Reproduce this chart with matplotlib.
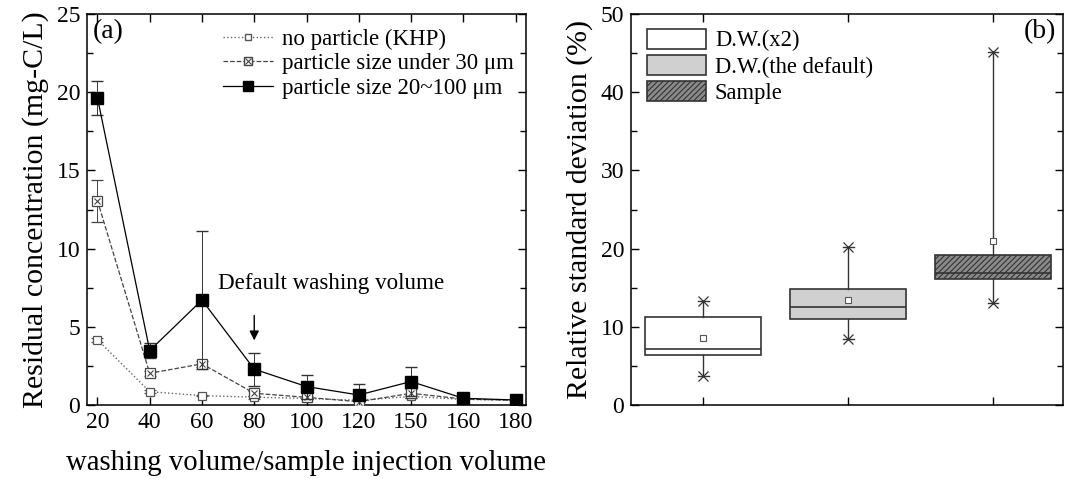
import numpy as np
import matplotlib
matplotlib.use('Agg')
from matplotlib import pyplot as plt
from matplotlib.lines import Line2D
from matplotlib.patches import Patch
from matplotlib.ticker import MultipleLocator

plt.rcParams['font.family'] = ['Liberation Serif', 'DejaVu Serif']
plt.rcParams['mathtext.fontset'] = 'stix'
plt.rcParams['hatch.linewidth'] = 0.8
plt.rcParams['axes.linewidth'] = 1.1
plt.rcParams['xtick.major.width'] = 1.0
plt.rcParams['ytick.major.width'] = 1.0
plt.rcParams['xtick.minor.width'] = 1.0
plt.rcParams['ytick.minor.width'] = 1.0

#==================
#DATA, PANEL (a)
#==================
vol_labels = ['20', '40', '60', '80', '100', '120', '150', '160', '180']

khp = [4.17, 0.85, 0.60, 0.50, 0.42, 0.30, 0.55, 0.36, 0.30]
khp_err = [0.12, 0.08, 0.05, 0.10, 0.05, 0.05, 0.10, 0.04, 0.02]

under30 = [13.06, 2.03, 2.63, 0.75, 0.49, 0.21, 0.75, 0.38, 0.30]
under30_err = [1.35, 0.15, 0.20, 0.15, 0.10, 0.05, 0.30, 0.05, 0.05]

big = [19.64, 3.48, 6.71, 2.29, 1.18, 0.64, 1.50, 0.43, 0.32]
big_err = [1.10, 0.46, 4.44, 1.05, 0.77, 0.68, 0.92, 0.10, 0.05]

#==================
#DATA, PANEL (b)
#==================
box_names = ['D.W.(x2)', 'D.W.(the default)', 'Sample']
box_q1 = [6.41, 10.98, 16.15]
box_med = [7.14, 12.52, 16.88]
box_q3 = [11.20, 14.87, 19.15]
box_mean = [8.59, 13.42, 20.98]
box_lo = [3.72, 8.42, 13.03]
box_hi = [13.25, 20.26, 45.17]

fig = plt.figure(figsize=(10.69, 4.79), dpi=100)
ax1 = fig.add_axes([87/1069, 74/479, 439/1069, 391/479])
ax2 = fig.add_axes([631/1069, 74/479, 432/1069, 391/479])

x = np.arange(len(vol_labels))

#KHP
ax1.errorbar(x, khp, yerr=khp_err, color='#666666', ls=':', lw=1.0,
             marker='s', ms=6, mfc='white', mec='#555555', mew=0.9,
             capsize=4, elinewidth=0.7, ecolor='#555555', zorder=3)
#under 30 um
ax1.errorbar(x, under30, yerr=under30_err, color='#444444', ls='--', lw=0.9,
             marker='s', ms=7, mfc='white', mec='#444444', mew=0.9,
             capsize=4, elinewidth=0.7, ecolor='#444444', zorder=4)
ax1.plot(x, under30, ls='none', marker='x', ms=5, mec='#444444', mew=0.8, zorder=5)
#20~100 um
ax1.errorbar(x, big, yerr=big_err, color='black', ls='-', lw=0.9,
             marker='s', ms=9, mfc='black', mec='black',
             capsize=4, elinewidth=0.7, ecolor='#333333', zorder=6)

ax1.set_xlim(-0.2, 8.2)
ax1.set_ylim(0, 25)
ax1.set_xticks(x)
ax1.set_xticklabels(vol_labels)
ax1.yaxis.set_major_locator(MultipleLocator(5))
ax1.yaxis.set_minor_locator(MultipleLocator(2.5))
ax1.tick_params(which='both', direction='in', top=True, right=True, labelsize=17)
ax1.tick_params(which='major', length=6, pad=5)
ax1.tick_params(which='minor', length=4)
ax1.set_xlabel('washing volume/sample injection volume', fontsize=20.7, labelpad=12)
ax1.set_ylabel('Residual concentration (mg-C/L)', fontsize=21.5, labelpad=5)

ax1.annotate('', xy=(3, 3.95), xytext=(3, 5.9),
             arrowprops=dict(arrowstyle='-|>', color='black', lw=1.0,
                             mutation_scale=14))
ax1.text(2.3, 7.8, 'Default washing volume', fontsize=16.6, va='center', ha='left')
ax1.text(0.012, 0.955, '(a)', transform=ax1.transAxes, fontsize=20,
         va='center', ha='left')

h_khp = Line2D([], [], color='#666666', ls=':', lw=1.0, marker='s', ms=5,
               mfc='white', mec='#555555')
h_u30 = (Line2D([], [], color='#444444', ls='--', lw=0.9, marker='s', ms=6,
                mfc='white', mec='#444444'),
         Line2D([], [], ls='none', marker='x', ms=4, mec='#444444', mew=0.8))
h_big = Line2D([], [], color='black', ls='-', lw=0.9, marker='s', ms=7,
               mfc='black')
ax1.legend([h_khp, h_u30, h_big],
           ['no particle (KHP)', 'particle size under 30 μm',
            'particle size 20~100 μm'],
           loc='upper right', bbox_to_anchor=(1.02, 1.015), frameon=False,
           fontsize=16.5, handlelength=2.2, handletextpad=0.4,
           labelspacing=0.15, numpoints=1)

#==========
#BOX PLOT
#==========
stats = []
for i in range(len(box_names)):
    stats.append(dict(label=box_names[i], q1=box_q1[i], med=box_med[i],
                      q3=box_q3[i], mean=box_mean[i],
                      whislo=box_lo[i], whishi=box_hi[i], fliers=[]))

fills = ['white', '#d0d0d0', '#8a8a8a']
hatches = [None, None, '//////']
pos = [1, 2, 3]
bp = ax2.bxp(stats, positions=pos, widths=0.8, patch_artist=True,
             showmeans=True, showfliers=False, capwidths=0.07,
             boxprops=dict(edgecolor='#333333', linewidth=1.2),
             medianprops=dict(color='#333333', linewidth=1.2),
             whiskerprops=dict(color='#333333', linewidth=1.0),
             capprops=dict(color='#333333', linewidth=1.0),
             meanprops=dict(marker='s', ms=4, mfc='white', mec='#555555',
                            mew=0.8))
for b, fc, ht in zip(bp['boxes'], fills, hatches):
    b.set_facecolor(fc)
    if ht:
        b.set_hatch(ht)

ax2.plot(pos, box_lo, ls='none', marker='x', ms=7, mec='#333333', mew=0.9)
ax2.plot(pos, box_hi, ls='none', marker='x', ms=7, mec='#333333', mew=0.9)

ax2.set_xlim(0.5, 3.48)
ax2.set_ylim(0, 50)
ax2.set_xticks(pos)
ax2.set_xticklabels(['', '', ''])
ax2.yaxis.set_major_locator(MultipleLocator(10))
ax2.yaxis.set_minor_locator(MultipleLocator(5))
ax2.tick_params(which='both', direction='in', top=True, right=True, labelsize=17)
ax2.tick_params(which='major', length=6, pad=5)
ax2.tick_params(which='minor', length=4)
ax2.set_ylabel('Relative standard deviation (%)', fontsize=21.5, labelpad=5)
ax2.text(0.985, 0.955, '(b)', transform=ax2.transAxes, fontsize=20,
         va='center', ha='right')

leg_h = [Patch(facecolor=fills[i], edgecolor='#333333', hatch=hatches[i], lw=1.2)
         for i in range(3)]
ax2.legend(leg_h, box_names, loc='upper left', bbox_to_anchor=(-0.01, 1.015),
           frameon=False, fontsize=16.3, handlelength=2.6, handleheight=1.0,
           handletextpad=0.4, labelspacing=0.15)

fig.savefig('out.png', dpi=100)
